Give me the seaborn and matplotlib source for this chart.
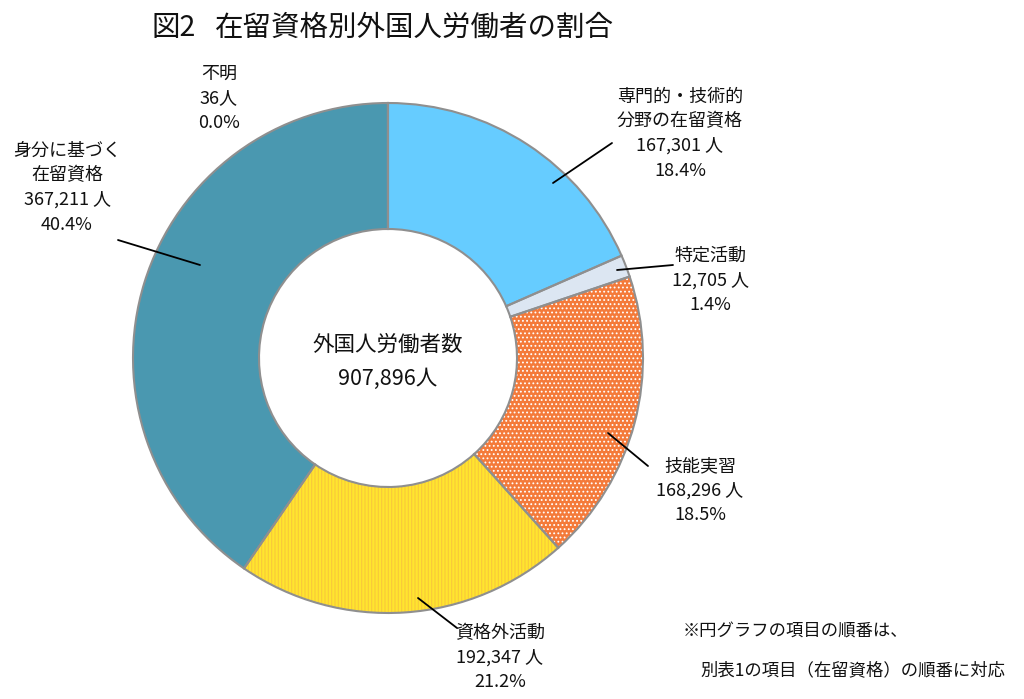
import matplotlib
matplotlib.use("Agg")
import matplotlib.pyplot as plt
import seaborn as sns

sns.set_theme(style="white")
plt.rcParams['font.family'] = ['Noto Sans CJK JP', 'DejaVu Sans']
plt.rcParams['hatch.linewidth'] = 0.8

categories = ["専門的・技術的\n分野の在留資格", "特定活動", "技能実習", "資格外活動", "身分に基づく\n在留資格", "不明"]
values = [167301, 12705, 168296, 192347, 367211, 36]
percents = ["18.4%", "1.4%", "18.5%", "21.2%", "40.4%", "0.0%"]
total = 907896
colors = ["#66CCFF", "#DCE6F2", "#F47A3A", "#FFE52E", "#4A98B0", "#4A98B0"]
hatches = [None, None, "....", "|||||", None, None]
hatch_colors = [None, None, "#FFFFFF", "#F8C83A", None, None]

W, H = 1024, 699
fig = plt.figure(figsize=(W / 100, H / 100), dpi=100)
ax = fig.add_axes([0, 0, 1, 1])


def py(y):
    return H - y


cx, cy = 388, py(358)
R, r = 255, 129

wedges, _ = ax.pie(values, colors=colors, startangle=90, counterclock=False,
                   radius=R, center=(cx, cy), frame=True,
                   wedgeprops=dict(width=R - r, linewidth=0))
for w, h, hc in zip(wedges, hatches, hatch_colors):
    if h:
        w.set_hatch(h)
        w.set_edgecolor(hc)
        w.set_linewidth(0)
ax.pie(values, colors=["none"] * len(values), startangle=90, counterclock=False,
       radius=R, center=(cx, cy), frame=True,
       wedgeprops=dict(width=R - r, linewidth=1.5, edgecolor="#8F8F8F", fill=False))
ax.set_xlim(0, W)
ax.set_ylim(0, H)
ax.set_aspect("equal")
ax.axis("off")

fs = 13
txt_kw = dict(ha="center", va="center", fontsize=fs, color="#111111")


def label(i, x, y_first, step=24.5, unit_space=True):
    amount = f"{values[i]:,} 人" if unit_space else f"{values[i]:,}人"
    lines = categories[i].split("\n") + [amount, percents[i]]
    for k, s in enumerate(lines):
        ax.text(x, py(y_first + k * step), s, **txt_kw)


label(0, 680, 97)
label(1, 710, 256)
label(2, 700, 466)
label(3, 500, 633)
label(4, 67, 151)
label(5, 219, 74, unit_space=False)

line_kw = dict(color="black", lw=1.3)
ax.plot([553, 612], [py(183), py(143)], **line_kw)
ax.plot([617, 673], [py(270), py(265)], **line_kw)
ax.plot([608, 648], [py(433), py(466)], **line_kw)
ax.plot([418, 457], [py(598), py(628)], **line_kw)
ax.plot([118, 200], [py(240), py(265)], **line_kw)

ax.text(cx, py(345), "外国人労働者数", ha="center", va="center", fontsize=15.5, color="#111111")
ax.text(cx, py(379), f"{total:,}人", ha="center", va="center", fontsize=15.5, color="#111111")

ax.text(151, py(28), "図2", ha="left", va="center", fontsize=20.5, color="#111111")
ax.text(215, py(28), "在留資格別外国人労働者の割合", ha="left", va="center",
        fontsize=20.5, color="#111111")

ax.text(683, py(632), "※円グラフの項目の順番は、", ha="left", va="center", fontsize=12.5, color="#111111")
ax.text(700, py(670), "別表1の項目（在留資格）の順番に対応", ha="left", va="center", fontsize=12.5, color="#111111")

fig.savefig("out.png", dpi=100, facecolor="white")
